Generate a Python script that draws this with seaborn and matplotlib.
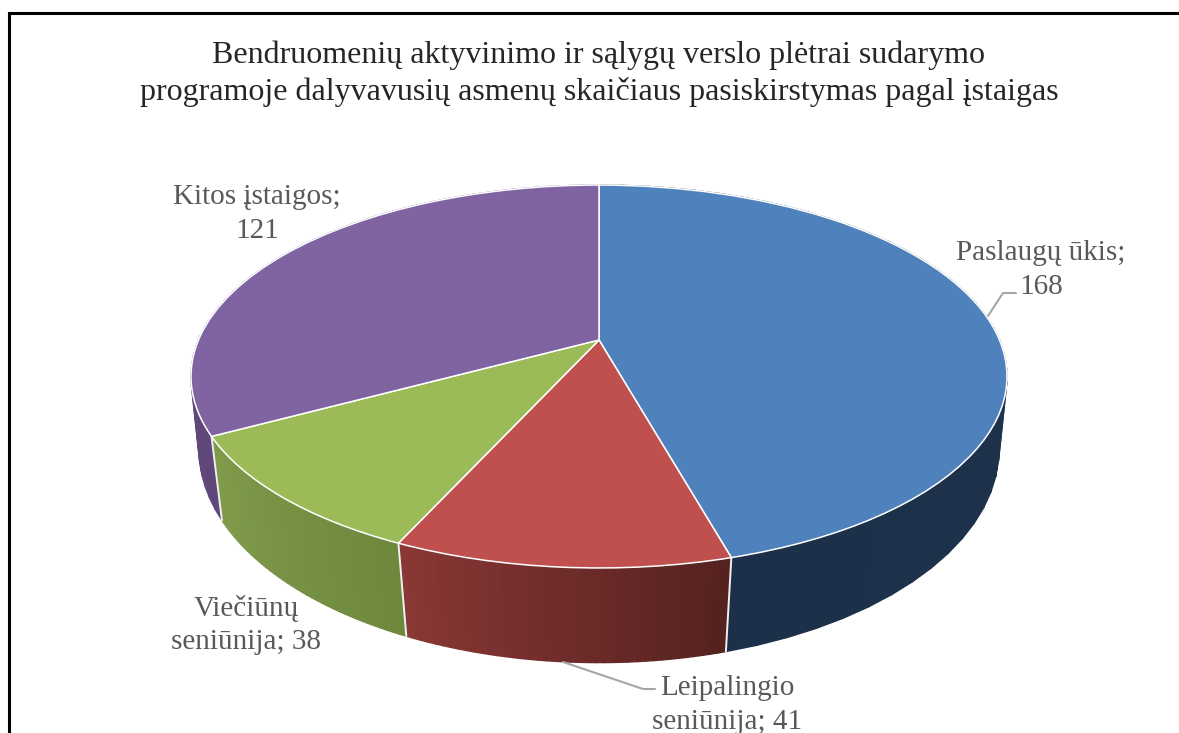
import numpy as np
import matplotlib
matplotlib.use('Agg')
import matplotlib.pyplot as plt
import seaborn as sns
from matplotlib.collections import PolyCollection
from matplotlib.transforms import Transform

# duomenys
title = ('Bendruomenių aktyvinimo ir sąlygų verslo plėtrai sudarymo\n'
         'programoje dalyvavusių asmenų skaičiaus pasiskirstymas pagal įstaigas')
names = ['Paslaugų ūkis;\n168', 'Leipalingio\nseniūnija; 41',
         'Viečiūnų\nseniūnija; 38', 'Kitos įstaigos;\n121']
values = [168, 41, 38, 121]

top_colors = ['#4f81bd', '#c0504d', '#9bbb59', '#8064a2']
# sieneles: (kaire, desine)
wall_colors = [('#1c3049', '#1f344f'), ('#8a3735', '#552220'),
               ('#809c4b', '#6e883e'), ('#6a4f88', '#5f4879')]

W, H = 1179, 733
sns.set_theme(style='white')
plt.rcParams['font.family'] = ['Liberation Serif', 'DejaVu Serif']


class Tilt(Transform):
    # pasuktas apskritimas su perspektyva -> 3D pyrago elipse
    input_dims = 2
    output_dims = 2
    is_separable = False
    has_inverse = False

    def __init__(self, x0, y0, d, a, c):
        super().__init__()
        self.x0, self.y0, self.d, self.a, self.c = x0, y0, d, a, c

    def transform_non_affine(self, values):
        values = np.asarray(values)
        den = 1 + self.c * values[:, 1]
        return np.column_stack([self.x0 + self.d * values[:, 0] / den,
                                self.y0 - self.a * values[:, 1] / den])


upper = Tilt(599, 340, 400.5, 184.5, 0.1906)
lower = Tilt(599, 413.2, 394.4, 207.6, 0.1676)


def rim(tr, deg):
    rad = np.radians(deg)
    return tr.transform(np.column_stack([np.cos(rad), np.sin(rad)]))


fig = plt.figure(figsize=(W / 100, H / 100), dpi=100)
ax = fig.add_axes([9 / W, 0, 1 - 9 / W, 1 - 13 / H])

wedges, _ = ax.pie(values, startangle=90, counterclock=False, colors=top_colors,
                   wedgeprops=dict(edgecolor='white', linewidth=1.1, zorder=3))
for w in wedges:
    w.set_transform(upper + ax.transData)

ax.set_aspect('auto')
ax.set_xlim(9, W)
ax.set_ylim(H, 13)

# sonines sieneles
for w, (c_left, c_right) in zip(wedges, wall_colors):
    deg = np.linspace(w.theta1, w.theta2, 41)
    up, lo = rim(upper, deg), rim(lower, deg)
    strips = [[up[i], up[i + 1], lo[i + 1], lo[i]] for i in range(len(deg) - 1)]
    shades = sns.blend_palette([c_left, c_right], len(strips))
    ax.add_collection(PolyCollection(strips, facecolors=shades, edgecolors=shades,
                                     linewidths=1.0, zorder=1))

# balti bruksniai tarp sieneliu (tik matomi kampai)
for w in wedges[:3]:
    a = np.array([w.theta1])
    ax.plot([rim(upper, a)[0, 0], rim(lower, a)[0, 0]],
            [rim(upper, a)[0, 1], rim(lower, a)[0, 1]],
            color='#f0f0f0', lw=1.4, zorder=2)

# linijos prie uzrasu
ax.plot([988, 1003, 1016], [316, 293, 293], color='#a6a6a6', lw=1.5, zorder=2)
ax.plot([563, 643, 655], [662, 689, 689], color='#a6a6a6', lw=1.5, zorder=2)

label_pos = [(1041, 270), (727, 705), (246, 625), (257, 214)]
for name, (x, y) in zip(names, label_pos):
    ax.text(x, y, name, ha='center', va='center', fontsize=21, color='#595959',
            linespacing=1.39, zorder=4)

ax.set_title(title, fontsize=23, color='#262626', x=(599 - 9) / (W - 9),
             y=(H - 108) / (H - 13), linespacing=1.27)

ax.set_frame_on(True)
ax.set_xticks([])
ax.set_yticks([])
for side in ['right', 'bottom']:
    ax.spines[side].set_visible(False)
for side in ['top', 'left']:
    ax.spines[side].set_color('black')
    ax.spines[side].set_linewidth(2.2)

fig.savefig('out.png', dpi=100)
